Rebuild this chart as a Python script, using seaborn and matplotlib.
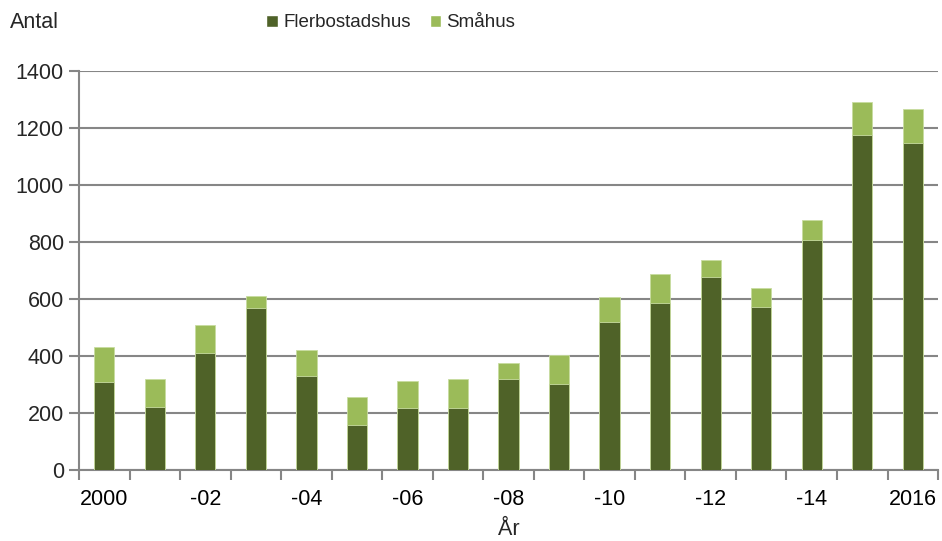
import numpy as np
import pandas as pd
import matplotlib
matplotlib.use('Agg')
import matplotlib.pyplot as plt
import seaborn as sns
from matplotlib.patches import Patch

years = list(range(2000, 2017))
flerbostadshus = [310, 222, 410, 570, 331, 159, 216, 219, 319, 303, 521, 587, 677, 572, 808, 1175, 1148]
smahus = [122, 98, 100, 40, 91, 96, 95, 100, 56, 101, 85, 102, 59, 68, 70, 115, 117]
xlabels = ['2000', '', '-02', '', '-04', '', '-06', '', '-08', '', '-10', '', '-12', '', '-14', '', '2016']

dark = '#4F6228'
light = '#9BBB59'
grey = '#868686'

sns.set_theme(style='white')
plt.rcParams['font.family'] = ['Liberation Sans', 'DejaVu Sans']

df = pd.DataFrame({'year': [str(y) for y in years],
                   'fler': flerbostadshus,
                   'total': np.array(flerbostadshus) + np.array(smahus)})

fig = plt.figure(figsize=(9.42, 5.41), dpi=100)
ax = fig.add_axes([0.0839, 0.1312, 0.9119, 0.7376])

sns.barplot(data=df, x='year', y='total', color=light, width=0.4,
            saturation=1, edgecolor='#c8dca0', linewidth=0.6, ax=ax, zorder=3)
sns.barplot(data=df, x='year', y='fler', color=dark, width=0.4,
            saturation=1, edgecolor='#c8dca0', linewidth=0.6, ax=ax, zorder=4)

ax.set_ylim(0, 1400)
ax.set_xlim(-0.5, len(years) - 0.5)
ax.set_yticks(range(0, 1401, 200))
ax.yaxis.grid(True, color=grey, linewidth=1.5, zorder=0)
ax.set_axisbelow(True)

ax.set_xticks(range(len(years)))
ax.set_xticklabels(xlabels)
ax.set_xticks(np.arange(-0.5, len(years), 1), minor=True)
ax.tick_params(axis='x', which='major', length=0, pad=14, labelsize=15.5, colors='black')
ax.tick_params(axis='x', which='minor', length=7, width=1.5, color=grey, direction='out',
               bottom=True)
ax.tick_params(axis='y', length=7, width=1.5, color=grey, direction='out', left=True,
               labelsize=15.5, pad=4)

for s in ['top', 'right']:
    ax.spines[s].set_visible(False)
for s in ['left', 'bottom']:
    ax.spines[s].set_color(grey)
    ax.spines[s].set_linewidth(1.5)

ax.set_ylabel('')
ax.set_xlabel('År', fontsize=15.5, labelpad=6)

fig.text(0.011, 0.958, 'Antal', fontsize=15.5, va='center', ha='left')

handles = [Patch(facecolor=dark, label='Flerbostadshus'),
           Patch(facecolor=light, label='Småhus')]
fig.legend(handles=handles, loc='center', bbox_to_anchor=(0.415, 0.958), ncol=2,
           frameon=False, fontsize=13.5, handlelength=0.6, handleheight=0.6,
           handletextpad=0.3, columnspacing=1.0)

fig.savefig('out.png', dpi=100)
